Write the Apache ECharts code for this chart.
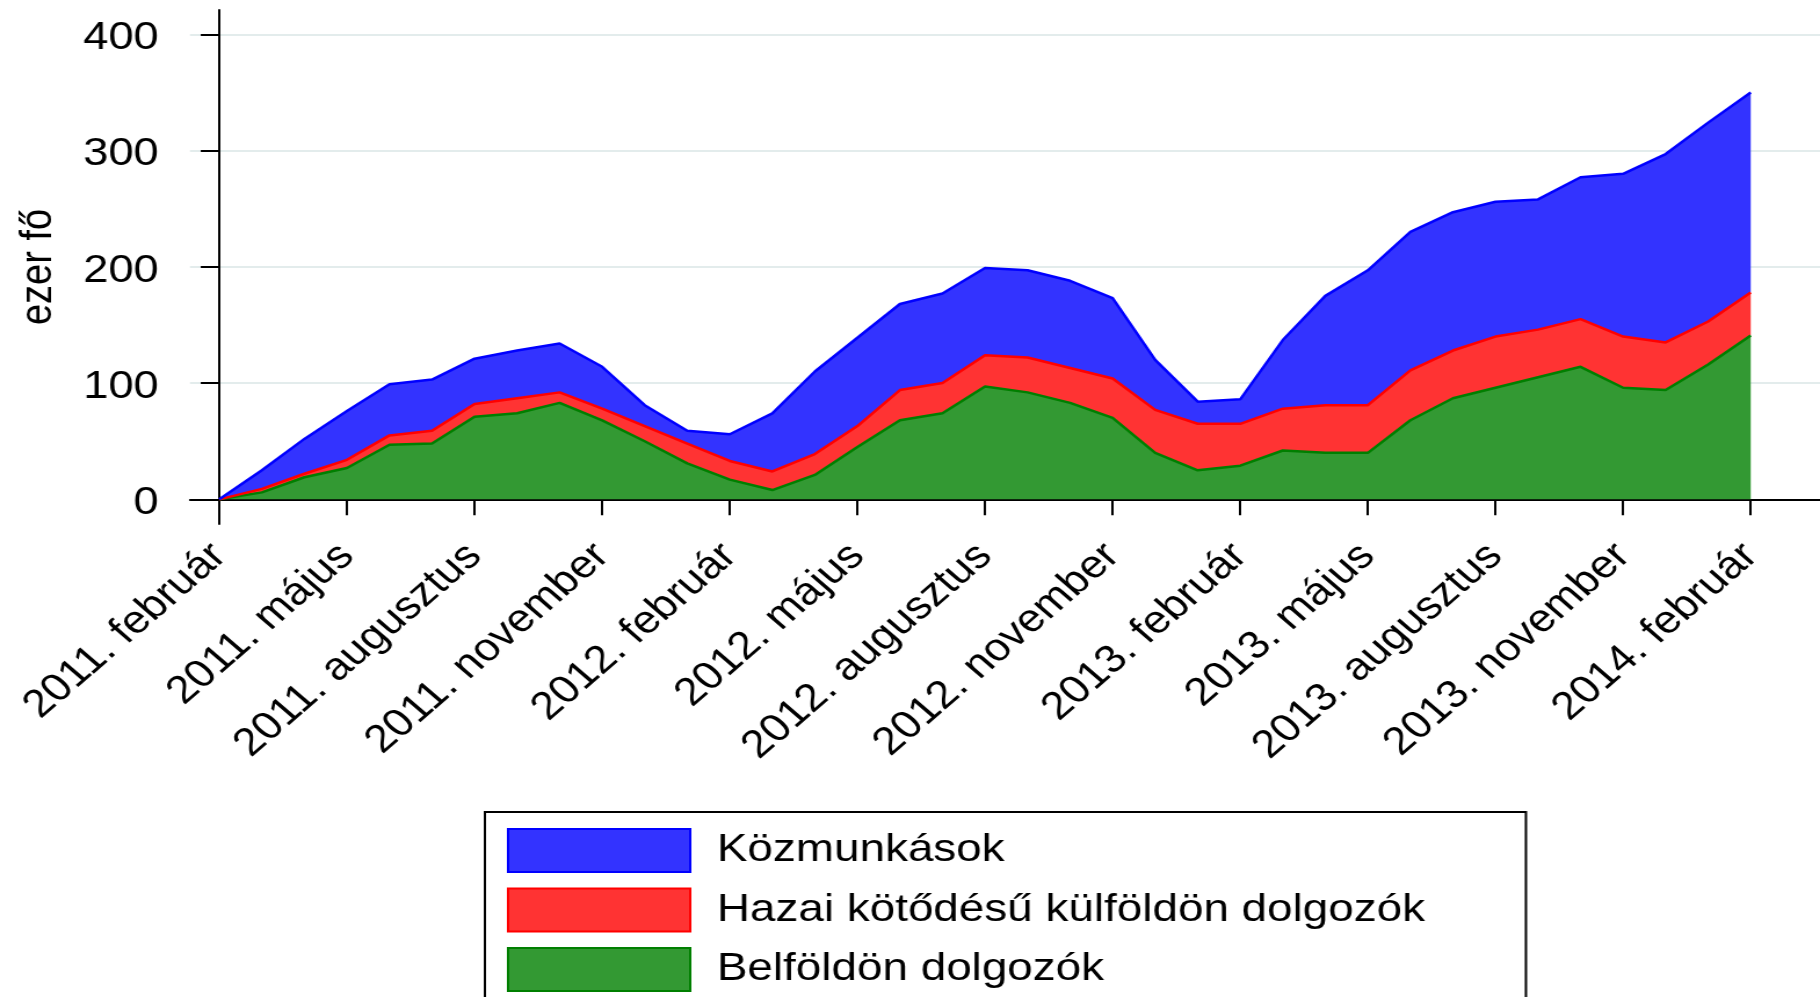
<!DOCTYPE html>
<html>
<head>
<meta charset="utf-8">
<script src="https://cdn.jsdelivr.net/npm/echarts@6/dist/echarts.min.js"></script>
<style>
  html, body { margin: 0; padding: 0; background: #ffffff; overflow: hidden; }
  #wrap { width: 1820px; height: 997px; overflow: hidden; position: relative; }
  #chart { width: 1569px; height: 997px; transform: scaleX(1.16); transform-origin: 0 0; }
</style>
</head>
<body>
<div id="wrap"><div id="chart"></div></div>
<script>
// Months (categories), Feb 2011 – Feb 2014
const months = [
  '2011. február', '2011. március', '2011. április', '2011. május', '2011. június', '2011. július',
  '2011. augusztus', '2011. szeptember', '2011. október', '2011. november', '2011. december',
  '2012. január', '2012. február', '2012. március', '2012. április', '2012. május', '2012. június',
  '2012. július', '2012. augusztus', '2012. szeptember', '2012. október', '2012. november',
  '2012. december', '2013. január', '2013. február', '2013. március', '2013. április', '2013. május',
  '2013. június', '2013. július', '2013. augusztus', '2013. szeptember', '2013. október',
  '2013. november', '2013. december', '2014. január', '2014. február'
];
// indices of months that carry a tick label
const tickIdx = [0, 3, 6, 9, 12, 15, 18, 21, 24, 27, 30, 33, 36];
const yTicks = [0, 100, 200, 300, 400];

// Series values (ezer fő), stacked bottom to top
const belfoldon = [0, 6, 19, 27, 47, 48, 71, 74, 83, 68, 50, 31, 17, 8, 21, 45, 68, 74, 97, 92, 83, 70, 40, 25, 29, 42, 40, 40, 68, 87, 96, 105, 114, 96, 94, 116, 141];
const hazai = [0, 3, 3, 7, 8, 11, 11, 13, 9, 10, 13, 17, 16, 16, 18, 18, 26, 26, 27, 30, 30, 34, 37, 40, 36, 36, 41, 41, 43, 41, 44, 41, 41, 44, 41, 37, 37];
const kozmunka = [0, 16, 30, 42, 44, 44, 39, 41, 42, 36, 18, 11, 23, 50, 71, 76, 74, 77, 75, 75, 75, 69, 43, 19, 21, 59, 94, 116, 119, 119, 116, 112, 122, 140, 162, 171, 172];

const names = ['Közmunkások', 'Hazai kötődésű külföldön dolgozók', 'Belföldön dolgozók'];

const FONT = 'Liberation Sans, Arial, Helvetica, sans-serif';
// value first, month index second: the first (value) column is the one that gets stacked
const rows = arr => arr.map((v, i) => [v, i]);

function areaSeries(name, values, line, fill) {
  return {
    name: name,
    type: 'line',
    stack: 'total',
    encode: { x: 1, y: 0 },
    data: rows(values),
    symbol: 'none',
    showSymbol: false,
    lineStyle: { color: line, width: 2.5 },
    itemStyle: { color: fill },
    areaStyle: { color: fill, opacity: 1 },
    emphasis: { disabled: true },
    animation: false
  };
}

const chart = echarts.init(document.getElementById('chart'), null, { renderer: 'canvas' });
chart.setOption({
  backgroundColor: '#ffffff',
  animation: false,
  grid: { left: 163.8, right: 0, top: 10, bottom: 473, containLabel: false },
  xAxis: {
    type: 'value',
    min: -0.689,
    max: 37.63,
    axisLine: { show: true, lineStyle: { color: '#000', width: 2 } },
    axisTick: { show: true, length: 16, lineStyle: { color: '#000', width: 2 }, customValues: tickIdx },
    axisLabel: {
      customValues: tickIdx,
      rotate: 45,
      margin: 26,
      fontSize: 39,
      color: '#000',
      fontFamily: FONT,
      formatter: v => months[Math.round(v)]
    },
    splitLine: { show: false }
  },
  yAxis: {
    type: 'value',
    min: -21.2,
    max: 420.9,
    name: 'ezer fő',
    nameLocation: 'middle',
    nameRotate: 90,
    nameGap: 111,
    nameTextStyle: { fontSize: 38, color: '#000', fontFamily: FONT },
    axisLine: { show: true, lineStyle: { color: '#000', width: 2 } },
    axisTick: { show: true, length: 16, lineStyle: { color: '#000', width: 2 }, customValues: yTicks },
    axisLabel: {
      customValues: yTicks, margin: 27, fontSize: 39, color: '#000', fontFamily: FONT,
      verticalAlign: 'top', lineHeight: 8
    },
    splitLine: { show: true, lineStyle: { color: '#e3ecec', width: 2 } }
  },
  legend: {
    orient: 'vertical',
    left: 418,
    top: 812,
    height: 200,
    itemWidth: 157,
    itemHeight: 43,
    itemGap: 14.5,
    padding: [16, 87, 16, 19],
    borderColor: '#000',
    borderWidth: 2,
    selectedMode: false,
    textStyle: { fontSize: 39.5, color: '#000', fontFamily: FONT, padding: [14, 0, 0, 18] },
    data: [
      { name: names[0], icon: 'rect', itemStyle: { color: '#3333ff', borderColor: '#0000ff', borderWidth: 2 } },
      { name: names[1], icon: 'rect', itemStyle: { color: '#ff3333', borderColor: '#ff0000', borderWidth: 2 } },
      { name: names[2], icon: 'rect', itemStyle: { color: '#339933', borderColor: '#007f00', borderWidth: 2 } }
    ]
  },
  series: [
    areaSeries(names[2], belfoldon, '#007f00', '#339933'),
    areaSeries(names[1], hazai, '#ff0000', '#ff3333'),
    areaSeries(names[0], kozmunka, '#0000ff', '#3333ff')
  ]
});
</script>
</body>
</html>
